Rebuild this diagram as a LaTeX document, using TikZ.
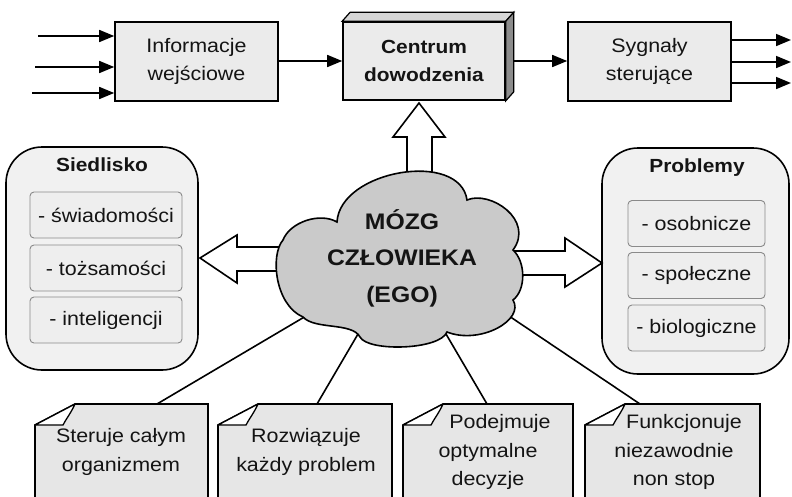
\documentclass[tikz,border=0pt]{standalone}
\usepackage{fontspec}
\setmainfont[FakeStretch=1.1]{Liberation Sans}
\usetikzlibrary{arrows.meta,calc}

\definecolor{txt}{HTML}{141414}
\definecolor{boxfill}{HTML}{EBEBEB}
\definecolor{contfill}{HTML}{F1F1F1}
\definecolor{itemfill}{HTML}{EEEEEE}
\definecolor{itemline}{HTML}{8A8A8A}
\definecolor{notefill}{HTML}{E6E6E6}
\definecolor{cloudfill}{HTML}{CACACA}
\definecolor{sidefill}{HTML}{8C8C8C}
\definecolor{topfill}{HTML}{D6D6D6}

\newcommand{\regfont}{\fontsize{19.5}{28.5}\selectfont}
\newcommand{\boldfont}{\fontsize{19}{28}\selectfont\bfseries}
\newcommand{\brainfont}{\fontsize{22.5}{36.5}\selectfont\bfseries}

% note with a curled top-left corner: #1 left x, #2 right x
\newcommand{\foldnote}[2]{%
  \path[notebody] (#1,520) -- (#1,425) -- ({#1+40},404) -- (#2,404) -- (#2,520) -- cycle;
  \path[noteflap] (#1,425) -- ({#1+40},404)
     .. controls ({#1+36},413) and ({#1+31},419) .. ({#1+28},425) -- cycle;}

\begin{document}
\begin{tikzpicture}[x=1pt,y=-1pt,
  every node/.style={text=txt},
  box/.style={draw=black, line width=1.6pt, fill=boxfill, minimum width=163pt,
              minimum height=79pt, align=center, inner sep=0pt},
  container/.style={draw=black, line width=1.6pt, fill=contfill, rounded corners=36pt},
  item/.style={draw=itemline, line width=0.9pt, fill=itemfill, rounded corners=4pt,
               minimum height=46pt, inner sep=0pt, font=\regfont},
  arr/.style={line width=1.6pt, -{Triangle[length=15pt,width=12pt]}},
  hollow/.style={draw=black, line width=1.6pt, fill=white, line join=miter},
  link/.style={line width=1.6pt},
  notebody/.style={draw=black, line width=1.6pt, fill=notefill, line join=miter},
  noteflap/.style={draw=black, line width=1.3pt, fill=white, line join=round},
  notetext/.style={align=center, font=\regfont, inner sep=0pt},
  cloudstyle/.style={draw=black, line width=1.6pt, fill=cloudfill}]

\clip (0,0) rectangle (792,496);
\fill[white] (0,0) rectangle (792,496);

% ---------- top row ----------
\node[box, font=\regfont] (info) at (196.5,61.5) {Informacje\\wejściowe};
\node[box, font=\boldfont, minimum width=162pt, minimum height=78pt] (cd) at (424,61) {Centrum\\dowodzenia};
\path[draw=black, line width=1.2pt, fill=topfill, line join=miter]
  (cd.north west) -- ++(8,-9) -- ($(cd.north east)+(8,-9)$) -- (cd.north east) -- cycle;
\path[draw=black, line width=1.2pt, fill=sidefill, line join=miter]
  (cd.north east) -- ++(8,-9) -- ($(cd.south east)+(8,-9)$) -- (cd.south east) -- cycle;
\node[box, font=\regfont] (sig) at (649.5,61.5) {Sygnały\\sterujące};

\coordinate (in1) at (38,36);
\coordinate (in2) at (35,67);
\coordinate (in3) at (32,93);
\foreach \i in {1,2,3} \draw[arr] (in\i) -- (in\i -| info.west);

\draw[arr] (info.east |- cd.center) -- (cd.west);
\draw[arr] ($(cd.east)+(8,0)$) -- (sig.west |- cd.center);

\coordinate (out1) at (791,40);
\coordinate (out2) at (791,62);
\coordinate (out3) at (791,83);
\foreach \i in {1,2,3} \draw[arr] (sig.east |- out\i) -- (out\i);

% ---------- side groups ----------
\path[container] (6,147) rectangle (198,370);
\node[font=\boldfont] (sied) at (102,165) {Siedlisko};
\node[item, minimum width=152pt] (s1) at (106,215) {- świadomości};
\node[item, minimum width=152pt] (s2) at (106,268) {- tożsamości};
\node[item, minimum width=152pt] (s3) at (106,320) {- inteligencji};

\path[container] (602,148) rectangle (789,374);
\node[font=\boldfont] (prob) at (697,168) {Problemy};
\node[item, minimum width=137pt] (p1) at (696.5,223.5) {- osobnicze};
\node[item, minimum width=137pt] (p2) at (696.5,275.5) {- społeczne};
\node[item, minimum width=137pt] (p3) at (696.5,328) {- biologiczne};

% ---------- hollow arrows leaving the brain ----------
\path[hollow] (407,190) -- (407,137) -- (393,137) -- (419,103) -- (445,137)
  -- (432,137) -- (432,190) -- cycle;
\path[hollow] (300,247) -- (237,247) -- (237,235) -- (200,258) -- (237,283)
  -- (237,271) -- (300,271) -- cycle;
\path[hollow] (500,251) -- (565,251) -- (565,238) -- (602,263) -- (565,287)
  -- (565,275) -- (500,275) -- cycle;

% ---------- notes and their links ----------
\coordinate (c1) at (306,316);
\coordinate (c2) at (358,334);
\coordinate (c3) at (446,334);
\coordinate (c4) at (509,316);
\coordinate (t1) at (157,404);
\coordinate (t2) at (317,404);
\coordinate (t3) at (487,404);
\coordinate (t4) at (640,404);
\draw[link] (c1) -- (t1);
\draw[link] (c2) -- (t2);
\draw[link] (c3) -- (t3);
\draw[link] (c4) -- (t4);

\foldnote{35}{208}
\foldnote{218}{392}
\foldnote{403}{573}
\foldnote{585}{760}
\node[notetext] (n1) at (121,452) {Steruje całym\\organizmem};
\node[notetext] (n2) at (306,452) {Rozwiązuje\\każdy problem};
\node[notetext] (n3) at (488,452) {\hspace*{24pt}Podejmuje\\optymalne\\decyzje};
\node[notetext] (n4) at (674,452) {\hspace*{20pt}Funkcjonuje\\niezawodnie\\non stop};

% ---------- the brain cloud ----------
\path[cloudstyle] (283,240)
  .. controls (290,222) and (320,212) .. (337,222)
  .. controls (340,170) and (460,150) .. (467,200)
  .. controls (490,190) and (535,220) .. (513,250)
  .. controls (526,262) and (526,290) .. (513,300)
  .. controls (525,320) and (480,345) .. (447,332)
  .. controls (440,350) and (368,352) .. (360,337)
  .. controls (352,322) and (315,330) .. (303,317)
  .. controls (275,305) and (270,255) .. (283,240) -- cycle;
\node[align=center, font=\brainfont, inner sep=0pt] (brain) at (402,258) {MÓZG\\CZŁOWIEKA\\(EGO)};

\end{tikzpicture}
\end{document}
